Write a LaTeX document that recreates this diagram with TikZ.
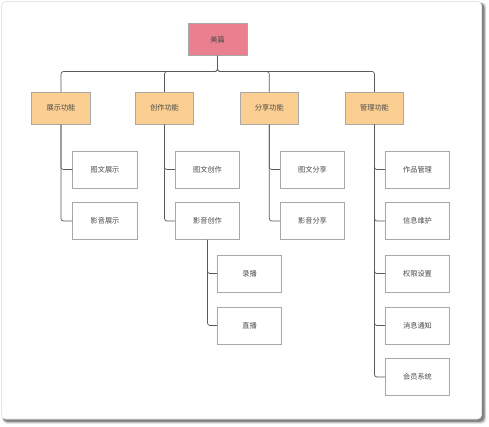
\documentclass[tikz,border=0pt]{standalone}
\usepackage{fontspec}
\setmainfont{Noto Sans CJK SC}
\begin{document}
\begin{tikzpicture}[x=1pt,y=-1pt,
  box/.style={draw=boxline,line width=0.6pt,inner sep=0pt,minimum width=64.5pt,minimum height=37pt,font=\fontsize{7.2}{8}\selectfont,text=txt,fill=white},
  lone/.style={box,fill=lvone,minimum width=58.5pt,minimum height=32pt},
  rootbox/.style={box,fill=rootc,minimum width=59pt,minimum height=32.5pt},
  conn/.style={draw=connc,line width=0.7pt,rounded corners=2.5pt}]
\definecolor{boxline}{HTML}{A8A8A8}
\definecolor{txt}{HTML}{4A4A4A}
\definecolor{lvone}{HTML}{FBCE91}
\definecolor{rootc}{HTML}{EA808E}
\definecolor{connc}{HTML}{5A5A5A}
\useasboundingbox (0,0) rectangle (489,426);
\fill[white] (0,0) rectangle (489,426);
% shadow
\foreach \o/\c in {4.5/6,4/10,3.5/16,3/24,2.5/32,2/40}{
  \fill[black,opacity=0.\c*0.25, rounded corners=4pt] (1.5+\o*0.3,1.5+\o*0.3) rectangle (481.5+\o,419+\o);
}
\fill[gray!80!black, opacity=0.5, rounded corners=4pt] (4,4) rectangle (484.5,422);
\filldraw[fill=white,draw=gray!20,line width=0.6pt,rounded corners=4pt] (1.5,1.5) rectangle (481.5,419);
% nodes
\node[rootbox] (root) at (217.5,39.4) {美篇};
\coordinate (bus) at (217.5,71.5);
\node[lone] (zs) at (61,108.2) {展示功能};
\node[lone] (cz) at (164.5,108.2) {创作功能};
\node[lone] (fx) at (269.3,108.2) {分享功能};
\node[lone] (gl) at (374.5,108.2) {管理功能};
\node[box] (zs1) at (105,169.5) {图文展示};
\node[box] (zs2) at (105,221) {影音展示};
\node[box] (cz1) at (207.5,169.5) {图文创作};
\node[box] (cz2) at (207.5,221) {影音创作};
\node[box] (lb) at (249.5,273.5) {录播};
\node[box] (zb) at (249.5,325.5) {直播};
\node[box] (fx1) at (312.5,169.5) {图文分享};
\node[box] (fx2) at (312.5,221) {影音分享};
\node[box] (gl1) at (417.5,169.5) {作品管理};
\node[box] (gl2) at (417.5,221) {信息维护};
\node[box] (gl3) at (417.5,273.5) {权限设置};
\node[box] (gl4) at (417.5,325.5) {消息通知};
\node[box] (gl5) at (417.5,377) {会员系统};
% connectors
\foreach \n in {zs,cz,fx,gl}{\draw[conn] (root.south) -- (bus) -| (\n.north);}
\foreach \p/\c in {zs/zs1,zs/zs2,cz/cz1,cz/cz2,cz2/lb,cz2/zb,fx/fx1,fx/fx2,gl/gl1,gl/gl2,gl/gl3,gl/gl4,gl/gl5}{
  \draw[conn] (\p.south) |- (\c.west);}
\end{tikzpicture}
\end{document}
